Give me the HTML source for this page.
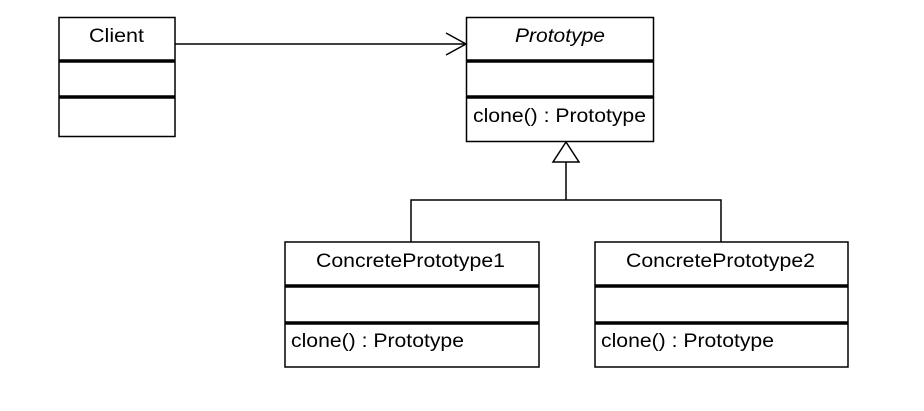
<!DOCTYPE html>
<html><head><style>
body{margin:0;background:#fff;}
svg text{font-family:"Liberation Sans",Arial,sans-serif;font-size:19px;fill:#000;}
</style></head><body>
<svg width="924" height="406" viewBox="0 0 924 406" xmlns="http://www.w3.org/2000/svg">
<g fill="none" stroke="#000" stroke-width="1.5">
<rect x="59" y="17.5" width="116" height="119"/>
<rect x="466.5" y="17.5" width="187" height="124"/>
<rect x="285" y="242" width="254" height="125"/>
<rect x="595" y="242" width="253" height="125"/>
</g>
<g stroke="#000" stroke-width="3.5">
<line x1="59" y1="61" x2="175" y2="61"/><line x1="59" y1="97" x2="175" y2="97"/>
<line x1="466.5" y1="61" x2="653.5" y2="61"/><line x1="466.5" y1="97" x2="653.5" y2="97"/>
<line x1="285" y1="286" x2="539" y2="286"/><line x1="285" y1="323" x2="539" y2="323"/>
<line x1="595" y1="286" x2="848" y2="286"/><line x1="595" y1="323" x2="848" y2="323"/>
</g>
<g fill="none" stroke="#000" stroke-width="1.5">
<line x1="175" y1="44" x2="466" y2="44"/>
<polyline points="446,33 466,44 446,55"/>
<polygon points="566,142 553,162 579,162"/>
<polyline points="566,162 566,200"/>
<polyline points="411,242 411,200 721,200 721,242"/>
</g>
<text x="89" y="42" textLength="55" lengthAdjust="spacingAndGlyphs">Client</text>
<text x="515" y="42" font-style="italic" textLength="90" lengthAdjust="spacingAndGlyphs">Prototype</text>
<text x="473" y="122" textLength="173" lengthAdjust="spacingAndGlyphs">clone() : Prototype</text>
<text x="316" y="267" textLength="189" lengthAdjust="spacingAndGlyphs">ConcretePrototype1</text>
<text x="626" y="267" textLength="189" lengthAdjust="spacingAndGlyphs">ConcretePrototype2</text>
<text x="291" y="347" textLength="173" lengthAdjust="spacingAndGlyphs">clone() : Prototype</text>
<text x="601" y="347" textLength="173" lengthAdjust="spacingAndGlyphs">clone() : Prototype</text>
</svg>
</body></html>
